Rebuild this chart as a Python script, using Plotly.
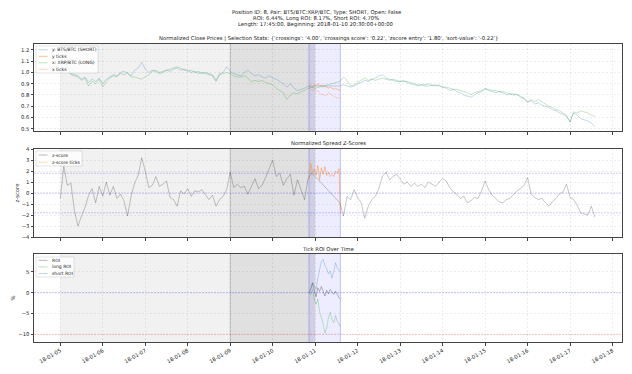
import plotly.graph_objects as go
import pandas as pd

# ---------------- data ----------------
base_times = pd.date_range("2018-01-05 00:00", periods=152, freq="2h")
N = None
y_price = [
    1.00, 1.03, 1.05, 0.99, 0.98, 0.97, 0.94, 0.96, 0.91, 0.94, 0.92, 0.95,
    0.90, 0.94, 0.96, 0.98, 0.97, 0.99, 0.98, 1.00, 0.97, 1.02, 1.04, 1.09,
    1.03, 1.00, 1.02, 1.01, 0.99, 1.00, 1.02, 1.01, 1.03, 1.04, 1.02, 1.03,
    1.01, 1.02, 1.00, 1.01, 0.99, 1.00, 0.99, 0.98, 0.93, 0.99, 1.00, 1.05,
    1.01, 0.99, 0.98, 0.97, 1.00, 1.02, 0.99, 0.97, 0.98, 0.96, 0.95, 0.97,
    0.95, 0.94, 0.92, 0.90, 0.87, 0.90, 0.86, 0.84, 0.85, 0.86, 0.88, 0.87,
    0.88, N, N, N, N, N, N, 0.88, 0.89, 0.88, 0.87, 0.88,
    0.90, 0.91, 0.93, 0.92, 0.94, 0.95, 0.97, 0.98, 0.95, 0.94, 0.93, 0.92,
    0.92, 0.93, 0.91, 0.90, 0.89, 0.88, 0.89, 0.89, 0.90, 0.88, 0.89, 0.88,
    0.87, 0.86, 0.84, 0.85, 0.83, 0.82, 0.80, 0.79, 0.78, 0.80, 0.82, 0.83,
    0.86, 0.84, 0.83, 0.82, 0.83, 0.82, 0.80, 0.81, 0.80, 0.81, 0.78, 0.77,
    0.74, 0.75, 0.72, 0.73, 0.71, 0.70, 0.69, 0.67, 0.66, 0.64, 0.63, 0.61,
    0.56, 0.64, 0.62, 0.59, 0.58, 0.57, 0.55, 0.52,
]
x_price = [
    1.00, 1.01, 1.02, 0.98, 0.97, 0.96, 0.93, 0.95, 0.88, 0.92, 0.90, 0.94,
    0.87, 0.92, 0.95, 0.97, 0.96, 1.00, 1.01, 0.99, 0.96, 0.96, 0.95, 0.94,
    0.96, 0.98, 1.01, 1.02, 1.00, 1.01, 1.02, 1.03, 1.04, 1.05, 1.04, 1.02,
    1.02, 1.00, 1.01, 0.99, 1.00, 0.99, 0.98, 0.97, 0.92, 0.98, 0.99, 1.00,
    0.99, 0.97, 0.96, 0.96, 0.97, 0.95, 0.92, 0.93, 0.92, 0.93, 0.91, 0.90,
    0.89, 0.86, 0.84, 0.82, 0.76, 0.80, 0.82, 0.81, 0.83, 0.84, 0.86, 0.87,
    0.86, N, N, N, N, N, N, 0.92, 0.96, 0.93, 0.88, 0.89,
    0.91, 0.93, 0.95, 0.93, 0.94, 0.93, 0.94, 0.95, 0.94, 0.93, 0.94, 0.93,
    0.92, 0.92, 0.92, 0.91, 0.90, 0.89, 0.89, 0.88, 0.88, 0.89, 0.88, 0.89,
    0.87, 0.87, 0.86, 0.85, 0.85, 0.84, 0.83, 0.82, 0.80, 0.82, 0.83, 0.84,
    0.85, 0.85, 0.84, 0.84, 0.83, 0.83, 0.82, 0.81, 0.81, 0.80, 0.79, 0.77,
    0.73, 0.76, 0.74, 0.76, 0.74, 0.72, 0.70, 0.69, 0.67, 0.66, 0.64, 0.62,
    0.56, 0.65, 0.64, 0.66, 0.65, 0.64, 0.62, 0.61,
]
zscore = [
    -0.5, 2.4, 0.7, 0.9, -1.6, -3.0, -2.1, -1.3, -0.2, 0.4, -0.9, 0.6,
    -0.3, 1.0, -0.2, 0.6, -0.5, -0.1, -0.7, -2.1, -0.3, 0.9, 1.6, 3.2,
    2.0, 0.5, 0.7, 1.5, 0.6, 0.8, 1.1, -0.4, -0.6, -1.2, 0.2, -0.1,
    0.4, -0.3, 0.2, 0.1, 0.3, -0.1, -0.6, -0.2, -1.2, -0.6, -0.3, 0.3,
    1.9, 0.5, 0.8, 0.5, 0.6, -0.1, 0.6, 1.3, 0.4, 0.7, 1.4, 2.2,
    3.0, 1.5, 1.8, 0.7, 1.3, 1.7, -0.2, 1.2, 0.3, -0.6, 1.3, 1.8,
    1.5, N, N, N, N, N, N, -0.9, -2.1, -0.3, -0.6, 0.3,
    -0.4, -0.9, -2.3, -1.2, -0.6, -0.3, 0.4, 1.5, 1.9, 1.2, 1.5, 1.7,
    1.3, 0.8, 1.0, 0.6, 0.9, 0.6, 0.8, 0.5, 1.0, 0.8, 0.6, 1.0,
    1.3, 1.1, 0.5, 0.1, -0.1, -0.5, -0.3, -0.9, -0.7, -0.4, -0.5, 0.2,
    1.1, 0.3, -0.2, -0.5, -0.8, -0.9, -0.6, -0.5, -0.1, 0.2, 0.4, 0.7,
    1.4, -0.1, -0.4, -0.6, -0.5, -0.9, -1.2, -0.8, -0.5, -0.1, 0.1, 0.8,
    -0.4, -0.6, -1.1, -1.8, -1.9, -2.0, -1.2, -2.2,
]

tick_times = list(pd.date_range("2018-01-10 20:30", periods=18, freq="1h")) + [pd.Timestamp("2018-01-11 14:15")]
y_ticks = [0.88, 0.89, 0.87, 0.89, 0.88, 0.90, 0.88, 0.89, 0.87, 0.88, 0.87, 0.86, 0.87, 0.86, 0.85, 0.86, 0.85, 0.84, 0.85]
x_ticks = [0.86, 0.85, 0.84, 0.85, 0.83, 0.84, 0.82, 0.80, 0.81, 0.79, 0.80, 0.82, 0.81, 0.80, 0.79, 0.78, 0.77, 0.78, 0.77]
z_ticks = [1.3, 2.7, 1.8, 2.2, 1.6, 2.5, 1.2, 2.3, 1.7, 2.4, 1.6, 1.9, 1.5, 1.7, 1.5, 2.0, 1.8, 2.2, -1.9]
roi = [0.0, 0.8, 2.3, 0.5, -1.0, 1.2, 0.3, 1.5, 0.2, -0.8, 0.6, -0.3, 0.8, 0.1, -0.4, 0.4, -0.6, -1.2, -1.6]
short_roi = [0.0, 1.0, 2.5, 1.5, 0.8, 3.5, 5.5, 7.5, 8.0, 6.5, 5.8, 4.5, 5.2, 3.5, 5.0, 7.2, 6.0, 5.5, 5.0]
long_roi = [0.0, -0.5, 0.8, -1.5, -2.8, -1.5, -4.5, -5.8, -7.5, -9.7, -8.5, -6.0, -4.7, -6.5, -7.2, -5.5, -6.8, -7.5, -8.2]

x_tick_vals = list(pd.date_range("2018-01-05", "2018-01-18", freq="D"))
zscore_entry = 1.8
stop_loss = -10

suptitle = [
    "Position ID: 8, Pair: BTS/BTC:XRP/BTC, Type: SHORT, Open: False",
    "ROI: 6.44%, Long ROI: 8.17%, Short ROI: 4.70%",
    "Length: 17:45:00, Beginning: 2018-01-10 20:30:00+00:00",
]
sub_titles = [
    "Normalized Close Prices | Selection Stats: {'crossings': '4.00', 'crossings score': '0.22', 'zscore entry': '1.80', 'sort-value': '-0.22'}",
    "Normalized Spread Z-Scores",
    "Tick ROI Over Time",
]

# ---------------- layout helpers ----------------
W, H = 632, 374
ML, MR, MT, MB = 34, 10, 44, 32
PW, PH = W - ML - MR, H - MT - MB


def fx(px):
    return (px - ML) / PW


def fy(py):
    return (H - MB - py) / PH


FONT = "DejaVu Sans"
BLUE = "rgba(31,119,180,0.35)"
GREEN = "rgba(44,160,44,0.35)"
ORANGE = "rgba(255,127,14,0.55)"
ORANGE2 = "rgba(255,127,14,0.35)"
GRAY = "rgba(0,0,0,0.32)"
LW = 0.8

fig = go.Figure()
fig.add_trace(go.Scatter(x=base_times, y=y_price, mode="lines", connectgaps=True,
                         line=dict(color=BLUE, width=LW), xaxis="x", yaxis="y"))
fig.add_trace(go.Scatter(x=tick_times, y=y_ticks, mode="lines",
                         line=dict(color=ORANGE, width=LW), xaxis="x", yaxis="y"))
fig.add_trace(go.Scatter(x=base_times, y=x_price, mode="lines", connectgaps=True,
                         line=dict(color=GREEN, width=LW), xaxis="x", yaxis="y"))
fig.add_trace(go.Scatter(x=tick_times, y=x_ticks, mode="lines",
                         line=dict(color=ORANGE2, width=LW), xaxis="x", yaxis="y"))
fig.add_trace(go.Scatter(x=base_times, y=zscore, mode="lines", connectgaps=True,
                         line=dict(color=GRAY, width=0.7), xaxis="x2", yaxis="y2"))
fig.add_trace(go.Scatter(x=tick_times, y=z_ticks, mode="lines",
                         line=dict(color=ORANGE, width=LW), xaxis="x2", yaxis="y2"))
fig.add_trace(go.Scatter(x=tick_times, y=roi, mode="lines",
                         line=dict(color=GRAY, width=LW), xaxis="x3", yaxis="y3"))
fig.add_trace(go.Scatter(x=tick_times, y=long_roi, mode="lines",
                         line=dict(color=GREEN, width=LW), xaxis="x3", yaxis="y3"))
fig.add_trace(go.Scatter(x=tick_times, y=short_roi, mode="lines",
                         line=dict(color=BLUE, width=LW), xaxis="x3", yaxis="y3"))

xrange = ["2018-01-04 09:10", "2018-01-18 05:20"]
common_x = dict(range=xrange, tickvals=x_tick_vals, showgrid=True, gridcolor="rgba(0,0,0,0.07)",
                griddash="2px,2px", gridwidth=0.6, showline=True, mirror=True, linecolor="#444",
                linewidth=1, ticks="outside", ticklen=2.5, tickcolor="#444", zeroline=False,
                automargin=False, tickfont=dict(family=FONT, size=5.3, color="#222"))
common_y = dict(showgrid=True, gridcolor="rgba(0,0,0,0.07)", griddash="2px,2px", gridwidth=0.6,
                showline=True, mirror=True, linecolor="#444", linewidth=1, ticks="outside",
                ticklen=2.5, tickcolor="#444", zeroline=False, automargin=False,
                tickfont=dict(family=FONT, size=5.3, color="#222"))

dom1 = [fy(131), 1.0]
dom2 = [fy(237), fy(149)]
dom3 = [0.0, fy(254)]

fig.update_layout(
    width=W, height=H, margin=dict(l=ML, r=MR, t=MT, b=MB, autoexpand=False),
    paper_bgcolor="white", plot_bgcolor="white", showlegend=False,
    xaxis=dict(common_x, anchor="y", domain=[0, 1], showticklabels=False),
    xaxis2=dict(common_x, anchor="y2", domain=[0, 1], showticklabels=False, matches="x"),
    xaxis3=dict(common_x, anchor="y3", domain=[0, 1], showticklabels=True, matches="x",
                tickformat="%y-%m-%d", tickangle=-30),
    yaxis=dict(common_y, anchor="x", domain=dom1, range=[0.48, 1.253],
               tickvals=[0.5, 0.6, 0.7, 0.8, 0.9, 1.0, 1.1, 1.2], tickformat=".1f"),
    yaxis2=dict(common_y, anchor="x2", domain=dom2, range=[-4, 4], tickvals=list(range(-4, 5))),
    yaxis3=dict(common_y, anchor="x3", domain=dom3, range=[-11.85, 9.3], tickvals=[-10, -5, 0, 5]),
)

# shaded periods and reference lines
shapes = []
for xa, ya in [("x", "y"), ("x2", "y2"), ("x3", "y3")]:
    yd = ya + " domain"
    shapes.append(dict(type="rect", xref=xa, yref=yd, x0="2018-01-05", x1="2018-01-11", y0=0, y1=1,
                       fillcolor="rgba(0,0,0,0.055)", line=dict(width=0), layer="below"))
    shapes.append(dict(type="rect", xref=xa, yref=yd, x0="2018-01-09", x1="2018-01-11", y0=0, y1=1,
                       fillcolor="rgba(0,0,0,0.07)", line=dict(width=0), layer="below"))
    shapes.append(dict(type="rect", xref=xa, yref=yd, x0="2018-01-10 20:30", x1="2018-01-11 14:15",
                       y0=0, y1=1, fillcolor="rgba(0,0,255,0.07)", line=dict(width=0), layer="below"))
    shapes.append(dict(type="line", xref=xa, yref=yd, x0="2018-01-09", x1="2018-01-09", y0=0, y1=1,
                       line=dict(color="rgba(0,0,0,0.22)", width=0.8), layer="below"))
    for t in ["2018-01-10 20:30", "2018-01-11 14:15"]:
        shapes.append(dict(type="line", xref=xa, yref=yd, x0=t, x1=t, y0=0, y1=1,
                           line=dict(color="rgba(0,0,255,0.28)", width=0.8), layer="below"))
for v in [zscore_entry, 0, -zscore_entry]:
    shapes.append(dict(type="line", xref="x2 domain", yref="y2", x0=0, x1=1, y0=v, y1=v,
                       line=dict(color="rgba(0,0,255,0.25)", width=0.8, dash="2px,1px")))
shapes.append(dict(type="line", xref="x3 domain", yref="y3", x0=0, x1=1, y0=0, y1=0,
                   line=dict(color="rgba(0,0,255,0.28)", width=0.8, dash="2px,1px")))
shapes.append(dict(type="line", xref="x3 domain", yref="y3", x0=0, x1=1, y0=stop_loss, y1=stop_loss,
                   line=dict(color="rgba(255,0,0,0.28)", width=0.8, dash="2px,1px")))

annotations = []
# manual legends (compact, matplotlib-like)
legends = [
    ((36, 46, 98, 73), [("y: BTS/BTC (SHORT)", BLUE), ("y ticks", ORANGE), ("x: XRP/BTC (LONG)", GREEN), ("x ticks", ORANGE2)], 49.8, 6.5),
    ((36, 151, 82, 166), [("z-score", GRAY), ("z-score ticks", ORANGE2)], 155, 7.2),
    ((36, 257, 74, 277), [("ROI", GRAY), ("long ROI", GREEN), ("short ROI", BLUE)], 260.3, 6.6),
]
for (bx0, by0, bx1, by1), entries, first_y, step in legends:
    shapes.append(dict(type="rect", xref="paper", yref="paper", x0=fx(bx0), x1=fx(bx1), y0=fy(by1), y1=fy(by0),
                       fillcolor="rgba(255,255,255,0.8)", line=dict(color="rgba(0,0,0,0.18)", width=0.6)))
    for k, (label, col) in enumerate(entries):
        yy = first_y + k * step
        shapes.append(dict(type="line", xref="paper", yref="paper", x0=fx(bx0 + 2.5), x1=fx(bx0 + 11.5),
                           y0=fy(yy), y1=fy(yy), line=dict(color=col, width=0.9)))
        annotations.append(dict(xref="paper", yref="paper", x=fx(bx0 + 14), y=fy(yy), text=label,
                                showarrow=False, xanchor="left", yanchor="middle",
                                font=dict(family=FONT, size=4.5, color="#222")))

for k, line in enumerate(suptitle):
    annotations.append(dict(xref="paper", yref="paper", x=fx(316), y=fy(12.5 + 6 * k), text=line,
                            showarrow=False, xanchor="center", yanchor="middle",
                            font=dict(family=FONT, size=5.3, color="#222")))
for txt, py in zip(sub_titles, [38.5, 143.5, 249.3]):
    annotations.append(dict(xref="paper", yref="paper", x=0.5, y=fy(py), text=txt, showarrow=False,
                            xanchor="center", yanchor="middle", font=dict(family=FONT, size=5.3, color="#222")))
annotations.append(dict(xref="paper", yref="paper", x=fx(16.5), y=fy(193), text="z-score", textangle=-90,
                        showarrow=False, xanchor="center", yanchor="middle",
                        font=dict(family=FONT, size=5.3, color="#222")))
annotations.append(dict(xref="paper", yref="paper", x=fx(12.5), y=fy(298), text="%", textangle=-90,
                        showarrow=False, xanchor="center", yanchor="middle",
                        font=dict(family=FONT, size=5.3, color="#222")))

fig.update_layout(shapes=shapes, annotations=annotations)
fig.write_html("out.html", config={"displayModeBar": False},
               post_script="document.body.style.margin='0';document.body.style.overflow='hidden';")
